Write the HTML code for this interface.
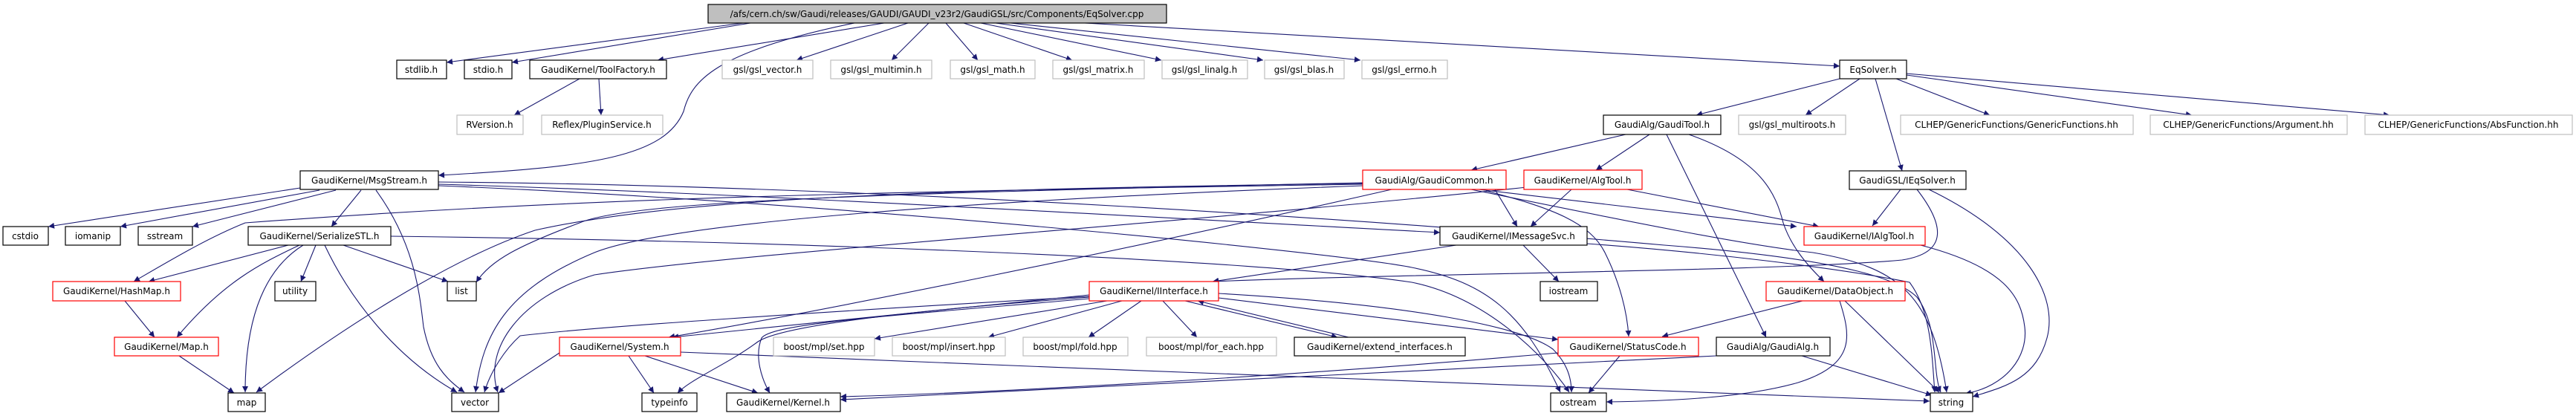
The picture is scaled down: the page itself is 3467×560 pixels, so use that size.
<!DOCTYPE html>
<html><head><meta charset="utf-8"><style>
html,body{margin:0;padding:0;background:#fff;}
svg{display:block;}
text{font-family:"DejaVu Sans","Liberation Sans",sans-serif;font-size:12px;fill:#000;text-anchor:middle;}
.e{fill:none;stroke:#191970;stroke-width:1.1;marker-end:url(#a);}
.b{fill:#fff;stroke:#000;stroke-width:1.2;}
.g{fill:#fff;stroke:#bfbfbf;stroke-width:1.2;}
.r{fill:#fff;stroke:#ff0000;stroke-width:1.2;}
</style></head><body>
<svg width="3467" height="560" viewBox="0 0 3467 560" xmlns="http://www.w3.org/2000/svg">
<defs><marker id="a" viewBox="0 0 10 10" refX="10" refY="5" markerWidth="11" markerHeight="8" markerUnits="userSpaceOnUse" orient="auto"><path d="M0,0 L10,5 L0,10 z" fill="#191970"/></marker></defs>
<g>
<path class="e" d="M1000,31 L601,84"/>
<path class="e" d="M1010,31 L689,84"/>
<path class="e" d="M1190,31 L885,81"/>
<path class="e" d="M1150,31 C960,70 930,110 920,150 C895,210 800,225 590,236"/>
<path class="e" d="M1222,31 L1072,81"/>
<path class="e" d="M1250,31 L1200,81"/>
<path class="e" d="M1273,31 L1316,81"/>
<path class="e" d="M1297,31 L1443,81"/>
<path class="e" d="M1320,31 L1563,81"/>
<path class="e" d="M1340,31 L1700,81"/>
<path class="e" d="M1360,31 L1831,81"/>
<path class="e" d="M1460,31 L2476,89"/>
<path class="e" d="M780,106 L692,155"/>
<path class="e" d="M806,106 L809,155"/>
<path class="e" d="M2476,106 L2283,155"/>
<path class="e" d="M2503,106 L2430,155"/>
<path class="e" d="M2552,106 L2678,155"/>
<path class="e" d="M2566,101 L2950,155"/>
<path class="e" d="M2566,99 L3216,155"/>
<path class="e" d="M2524,106 L2560,230"/>
<path class="e" d="M2188,181 L1980,229"/>
<path class="e" d="M2220,181 L2148,229"/>
<path class="e" d="M2243,181 L2377,454"/>
<path class="e" d="M2273,181 C2370,215 2390,260 2400,300 C2410,330 2430,355 2455,379"/>
<path class="e" d="M2558,255 L2520,304"/>
<path class="e" d="M2580,255 C2615,300 2625,340 2560,350 C2400,365 1900,368 1632,379"/>
<path class="e" d="M2596,255 C2730,320 2770,400 2755,455 C2740,510 2700,520 2655,534"/>
<path class="e" d="M2190,255 L2448,305"/>
<path class="e" d="M2115,255 L2060,305"/>
<path class="e" d="M2055,252 C1600,300 1000,340 800,370 C700,400 650,470 670,528"/>
<path class="e" d="M2012,255 L2042,305"/>
<path class="e" d="M1990,255 L2418,305"/>
<path class="e" d="M1980,255 C2200,300 2350,330 2440,340 C2560,360 2600,400 2620,528"/>
<path class="e" d="M2000,257 C2090,280 2140,300 2160,340 C2180,380 2190,420 2192,453"/>
<path class="e" d="M1873,255 C1500,340 1100,420 900,454"/>
<path class="e" d="M1834,246 C1200,260 850,270 780,300 C700,330 660,350 641,380"/>
<path class="e" d="M1834,247 C1200,255 900,270 720,310 C600,350 450,450 345,528"/>
<path class="e" d="M1834,248 C1200,258 800,265 330,300 C280,320 230,350 180,379"/>
<path class="e" d="M1834,250 C1300,270 900,300 800,340 C680,390 650,450 640,528"/>
<path class="e" d="M404,253 L65,305"/>
<path class="e" d="M430,256 L162,305"/>
<path class="e" d="M452,256 L259,305"/>
<path class="e" d="M486,256 L446,305"/>
<path class="e" d="M506,256 C560,330 565,400 570,440 C580,490 600,510 625,528"/>
<path class="e" d="M590,248 C1000,260 1500,290 1938,313"/>
<path class="e" d="M590,245 C1200,250 1900,300 2240,330 C2500,350 2560,380 2580,400 C2610,440 2600,500 2612,528"/>
<path class="e" d="M590,250 C1100,270 1800,340 1900,360 C2000,380 2050,420 2100,528"/>
<path class="e" d="M526,318 C1100,325 1700,350 1900,380 C2000,400 2080,480 2112,528"/>
<path class="e" d="M388,330 L200,379"/>
<path class="e" d="M403,330 C350,355 300,380 238,454"/>
<path class="e" d="M408,330 C360,360 330,420 330,528"/>
<path class="e" d="M425,330 L405,379"/>
<path class="e" d="M462,330 L603,379"/>
<path class="e" d="M437,330 C470,400 530,480 615,528"/>
<path class="e" d="M168,405 L208,454"/>
<path class="e" d="M241,479 L315,529"/>
<path class="e" d="M1960,330 L1632,379"/>
<path class="e" d="M2050,330 L2098,379"/>
<path class="e" d="M2136,328 C2300,340 2470,360 2570,380 C2600,420 2600,480 2604,528"/>
<path class="e" d="M1466,397 L905,454"/>
<path class="e" d="M1466,400 C1200,420 1050,440 1020,460 C980,490 930,510 912,529"/>
<path class="e" d="M1466,402 C1200,425 1040,435 1025,455 C1015,480 1025,510 1036,529"/>
<path class="e" d="M1490,405 L1177,456"/>
<path class="e" d="M1510,405 L1330,454"/>
<path class="e" d="M1536,405 L1465,454"/>
<path class="e" d="M1565,405 L1611,454"/>
<path class="e" d="M1595,405 L1800,454"/>
<path class="e" d="M1815,454 L1612,405"/>
<path class="e" d="M1640,401 L2097,457"/>
<path class="e" d="M1640,395 C1900,410 2050,440 2090,470 C2110,490 2115,510 2115,528"/>
<path class="e" d="M1466,399 C1100,420 800,440 700,452 C680,470 660,500 652,528"/>
<path class="e" d="M753,475 L671,529"/>
<path class="e" d="M846,479 L880,529"/>
<path class="e" d="M868,479 L1020,529"/>
<path class="e" d="M916,474 C1500,500 2200,520 2597,540"/>
<path class="e" d="M2180,479 L2138,529"/>
<path class="e" d="M2097,475 C1700,510 1300,530 1131,534"/>
<path class="e" d="M2426,405 L2237,453"/>
<path class="e" d="M2476,405 C2490,450 2500,490 2420,515 C2350,535 2250,540 2162,541"/>
<path class="e" d="M2483,405 L2610,528"/>
<path class="e" d="M2310,479 L1131,538"/>
<path class="e" d="M2425,479 L2600,532"/>
<path class="e" d="M2585,330 C2700,360 2720,400 2725,440 C2730,480 2700,520 2645,530"/>
</g>
<g>
<rect x="953" y="6" width="617" height="25" fill="#bfbfbf" stroke="#000" stroke-width="1.2"/><text x="1261" y="23">/afs/cern.ch/sw/Gaudi/releases/GAUDI/GAUDI_v23r2/GaudiGSL/src/Components/EqSolver.cpp</text>
<rect class="b" x="534" y="81" width="67" height="25"/><text x="567" y="98">stdlib.h</text>
<rect class="b" x="625" y="81" width="64" height="25"/><text x="657" y="98">stdio.h</text>
<rect class="b" x="713" y="81" width="184" height="25"/><text x="805" y="98">GaudiKernel/ToolFactory.h</text>
<rect class="g" x="972" y="81" width="122" height="25"/><text x="1033" y="98">gsl/gsl_vector.h</text>
<rect class="g" x="1118" y="81" width="136" height="25"/><text x="1186" y="98">gsl/gsl_multimin.h</text>
<rect class="g" x="1279" y="81" width="114" height="25"/><text x="1336" y="98">gsl/gsl_math.h</text>
<rect class="g" x="1417" y="81" width="123" height="25"/><text x="1478" y="98">gsl/gsl_matrix.h</text>
<rect class="g" x="1564" y="81" width="115" height="25"/><text x="1621" y="98">gsl/gsl_linalg.h</text>
<rect class="g" x="1702" y="81" width="107" height="25"/><text x="1755" y="98">gsl/gsl_blas.h</text>
<rect class="g" x="1833" y="81" width="115" height="25"/><text x="1890" y="98">gsl/gsl_errno.h</text>
<rect class="b" x="2476" y="81" width="90" height="25"/><text x="2521" y="98">EqSolver.h</text>
<rect class="g" x="615" y="155" width="89" height="26"/><text x="659" y="172">RVersion.h</text>
<rect class="g" x="729" y="155" width="163" height="26"/><text x="810" y="172">Reflex/PluginService.h</text>
<rect class="b" x="2158" y="155" width="158" height="26"/><text x="2237" y="172">GaudiAlg/GaudiTool.h</text>
<rect class="g" x="2340" y="155" width="144" height="26"/><text x="2412" y="172">gsl/gsl_multiroots.h</text>
<rect class="g" x="2558" y="155" width="313" height="26"/><text x="2714" y="172">CLHEP/GenericFunctions/GenericFunctions.hh</text>
<rect class="g" x="2894" y="155" width="265" height="26"/><text x="3026" y="172">CLHEP/GenericFunctions/Argument.hh</text>
<rect class="g" x="3183" y="155" width="279" height="26"/><text x="3322" y="172">CLHEP/GenericFunctions/AbsFunction.hh</text>
<rect class="b" x="404" y="230" width="186" height="25"/><text x="497" y="247">GaudiKernel/MsgStream.h</text>
<rect class="r" x="1834" y="229" width="193" height="26"/><text x="1930" y="247">GaudiAlg/GaudiCommon.h</text>
<rect class="r" x="2051" y="229" width="159" height="26"/><text x="2130" y="247">GaudiKernel/AlgTool.h</text>
<rect class="b" x="2489" y="230" width="157" height="25"/><text x="2567" y="247">GaudiGSL/IEqSolver.h</text>
<rect class="b" x="4" y="305" width="61" height="25"/><text x="34" y="322">cstdio</text>
<rect class="b" x="88" y="305" width="74" height="25"/><text x="125" y="322">iomanip</text>
<rect class="b" x="186" y="305" width="73" height="25"/><text x="222" y="322">sstream</text>
<rect class="b" x="334" y="305" width="192" height="25"/><text x="430" y="322">GaudiKernel/SerializeSTL.h</text>
<rect class="b" x="1938" y="305" width="198" height="25"/><text x="2037" y="322">GaudiKernel/IMessageSvc.h</text>
<rect class="r" x="2428" y="305" width="163" height="25"/><text x="2509" y="322">GaudiKernel/IAlgTool.h</text>
<rect class="r" x="71" y="379" width="172" height="26"/><text x="157" y="396">GaudiKernel/HashMap.h</text>
<rect class="b" x="370" y="379" width="55" height="26"/><text x="397" y="396">utility</text>
<rect class="b" x="602" y="379" width="39" height="26"/><text x="621" y="396">list</text>
<rect class="r" x="1466" y="379" width="174" height="26"/><text x="1553" y="396">GaudiKernel/IInterface.h</text>
<rect class="b" x="2073" y="379" width="77" height="26"/><text x="2111" y="396">iostream</text>
<rect class="r" x="2377" y="379" width="187" height="26"/><text x="2470" y="396">GaudiKernel/DataObject.h</text>
<rect class="r" x="154" y="454" width="140" height="25"/><text x="224" y="471">GaudiKernel/Map.h</text>
<rect class="r" x="753" y="454" width="163" height="25"/><text x="834" y="471">GaudiKernel/System.h</text>
<rect class="g" x="1041" y="454" width="136" height="25"/><text x="1109" y="471">boost/mpl/set.hpp</text>
<rect class="g" x="1201" y="454" width="152" height="25"/><text x="1277" y="471">boost/mpl/insert.hpp</text>
<rect class="g" x="1377" y="454" width="141" height="25"/><text x="1447" y="471">boost/mpl/fold.hpp</text>
<rect class="g" x="1543" y="454" width="175" height="25"/><text x="1630" y="471">boost/mpl/for_each.hpp</text>
<rect class="b" x="1742" y="454" width="230" height="25"/><text x="1857" y="471">GaudiKernel/extend_interfaces.h</text>
<rect class="r" x="2097" y="454" width="189" height="25"/><text x="2191" y="471">GaudiKernel/StatusCode.h</text>
<rect class="b" x="2310" y="454" width="153" height="25"/><text x="2386" y="471">GaudiAlg/GaudiAlg.h</text>
<rect class="b" x="307" y="529" width="50" height="25"/><text x="332" y="546">map</text>
<rect class="b" x="608" y="529" width="63" height="25"/><text x="639" y="546">vector</text>
<rect class="b" x="864" y="529" width="74" height="25"/><text x="901" y="546">typeinfo</text>
<rect class="b" x="978" y="529" width="153" height="25"/><text x="1054" y="546">GaudiKernel/Kernel.h</text>
<rect class="b" x="2087" y="529" width="75" height="25"/><text x="2124" y="546">ostream</text>
<rect class="b" x="2598" y="529" width="57" height="25"/><text x="2626" y="546">string</text>
</g>
</svg>
</body></html>
